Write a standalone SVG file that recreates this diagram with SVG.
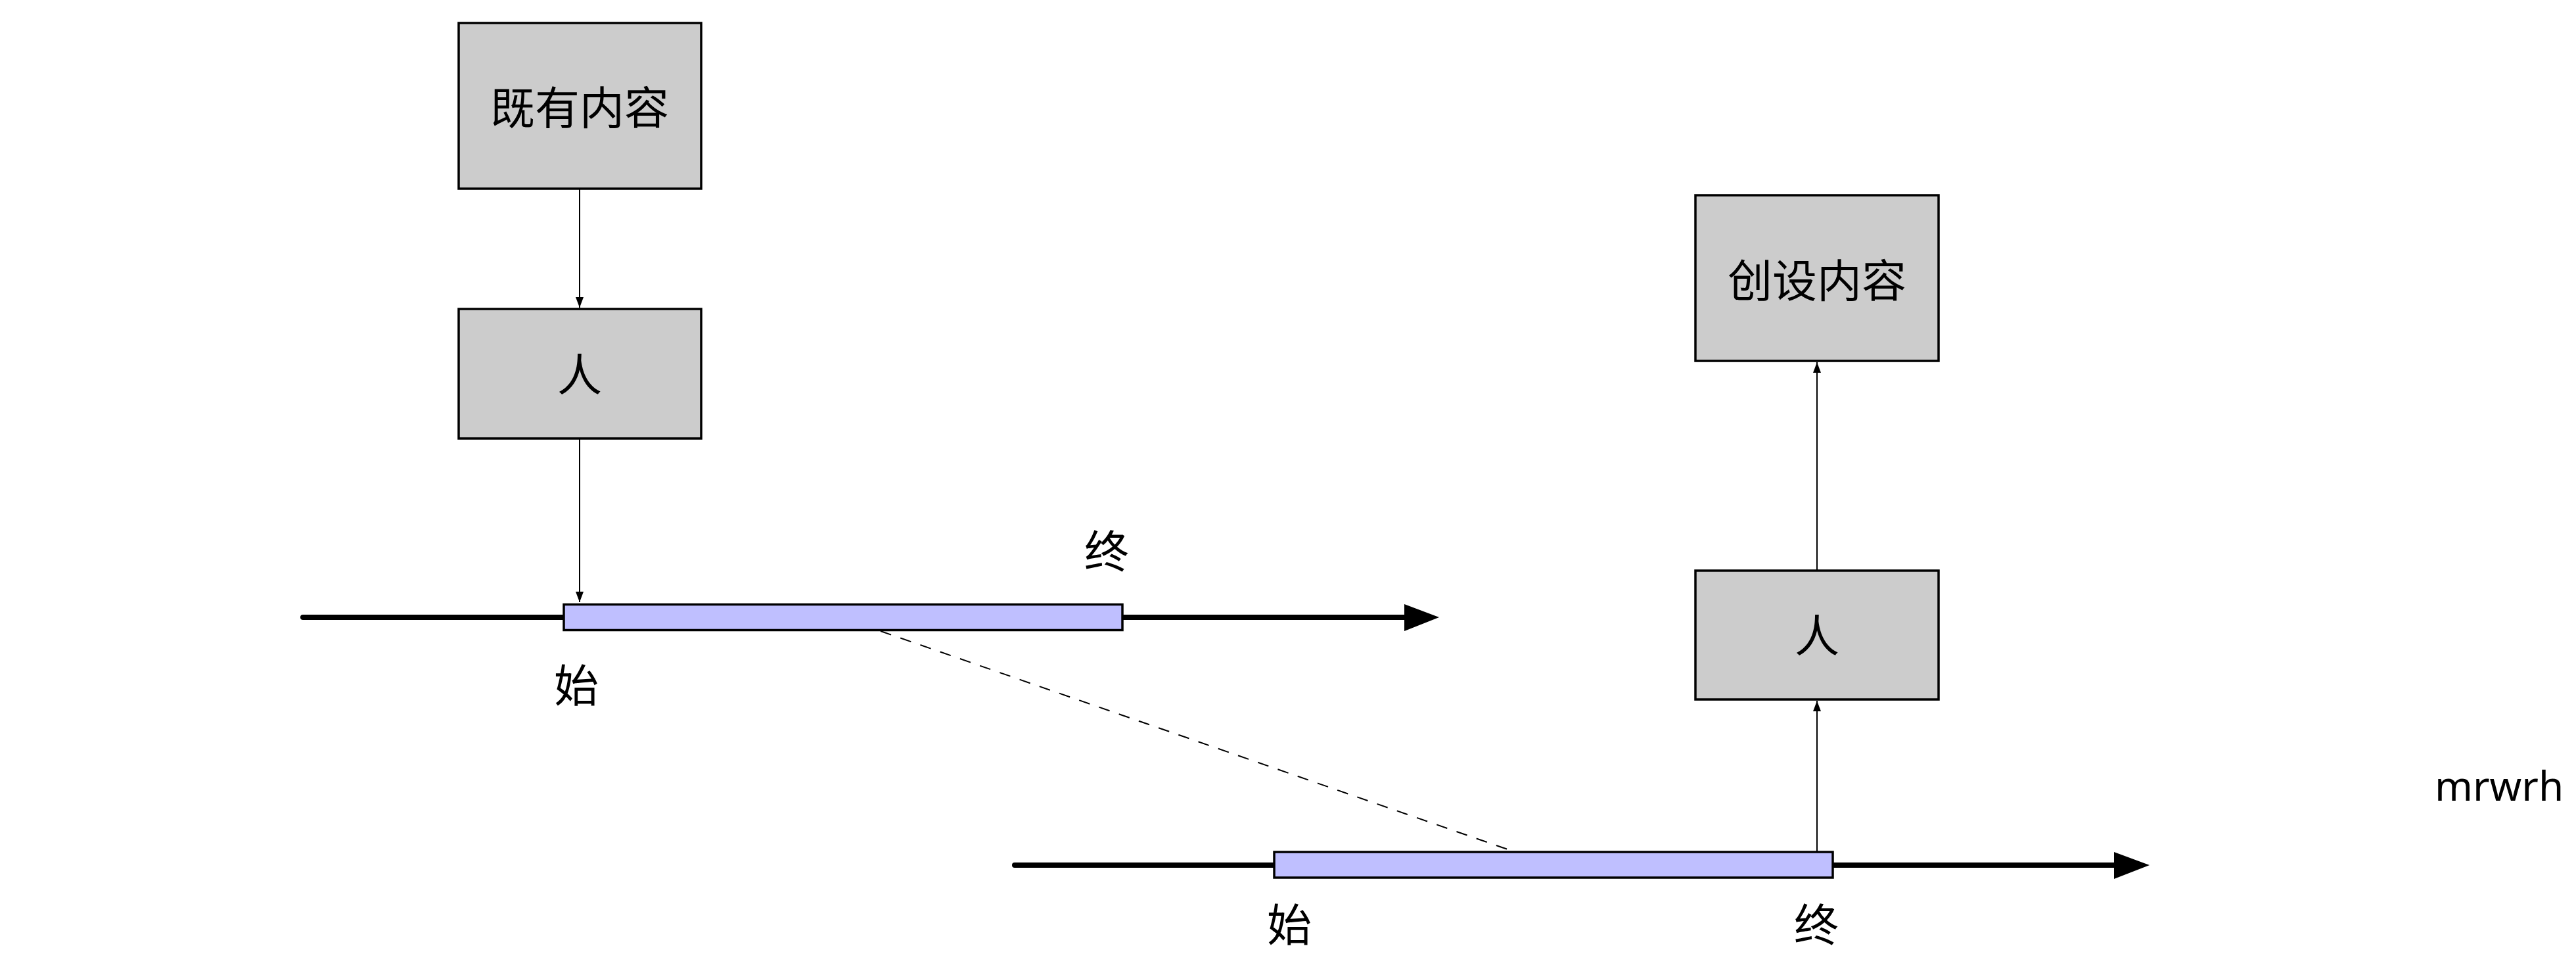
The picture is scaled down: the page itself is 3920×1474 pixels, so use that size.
<svg xmlns="http://www.w3.org/2000/svg" width="3920" height="1474" viewBox="0 0 3920 1474">
<style>
.box{fill:#cccccc;stroke:#000;stroke-width:3.5}
.bar{fill:#bfbfff;stroke:#000;stroke-width:3.5}
.t{font-family:"Noto Sans CJK SC","Noto Sans",sans-serif;font-size:68px;fill:#000;text-anchor:middle;dominant-baseline:central}
.axis{stroke:#000;stroke-width:8;stroke-linecap:round;fill:none}
.conn{stroke:#000;stroke-width:2;fill:none}
.dash{stroke:#000;stroke-width:2;fill:none;stroke-dasharray:17 15}
</style>
<defs>
<marker id="ah" markerUnits="userSpaceOnUse" markerWidth="16" markerHeight="22" refX="20" refY="7.5" orient="auto" viewBox="0 0 20 15">
<path d="M0,0 L20,7.5 L0,15 Z" fill="#000"/>
</marker>
</defs>
<rect width="3920" height="1474" fill="#fff"/>
<g id="timeline1">
<line class="axis" x1="461" y1="939" x2="2140" y2="939"/>
<path d="M2137,919 L2190,939 L2137,960 Z" fill="#000"/>
</g>
<g id="timeline2">
<line class="axis" x1="1544" y1="1316" x2="3220" y2="1316"/>
<path d="M3217,1296 L3271,1316 L3217,1337 Z" fill="#000"/>
</g>
<g id="connectors">
<line class="conn" x1="882" y1="287" x2="882" y2="468" marker-end="url(#ah)"/>
<line class="conn" x1="882" y1="667" x2="882" y2="916" marker-end="url(#ah)"/>
<line class="conn" x1="2765" y1="1295" x2="2765" y2="1066" marker-end="url(#ah)"/>
<line class="conn" x1="2765" y1="868" x2="2765" y2="551" marker-end="url(#ah)"/>
<line class="dash" x1="1340" y1="960" x2="2300" y2="1294"/>
</g>
<g id="bar1"><rect class="bar" x="858" y="919.5" width="850" height="39"/></g>
<g id="bar2"><rect class="bar" x="1939" y="1296" width="850" height="39"/></g>
<g id="existing"><rect class="box" x="698" y="35" width="369" height="252"/><text class="t" x="882" y="159">既有内容</text></g>
<g id="person1"><rect class="box" x="698" y="470" width="369" height="197"/><text class="t" x="882" y="565">人</text></g>
<g id="created"><rect class="box" x="2580" y="297" width="370" height="252"/><text class="t" x="2765" y="422">创设内容</text></g>
<g id="person2"><rect class="box" x="2580" y="868" width="370" height="196"/><text class="t" x="2765" y="962">人</text></g>
<text class="t" x="1684" y="834">终</text>
<text class="t" x="877" y="1038">始</text>
<text class="t" x="1962" y="1402">始</text>
<text class="t" x="2764" y="1402">终</text>
<text x="3705" y="1218" style="font-family:'Noto Sans',sans-serif;font-size:62px;fill:#000">mrwrh</text>
</svg>
